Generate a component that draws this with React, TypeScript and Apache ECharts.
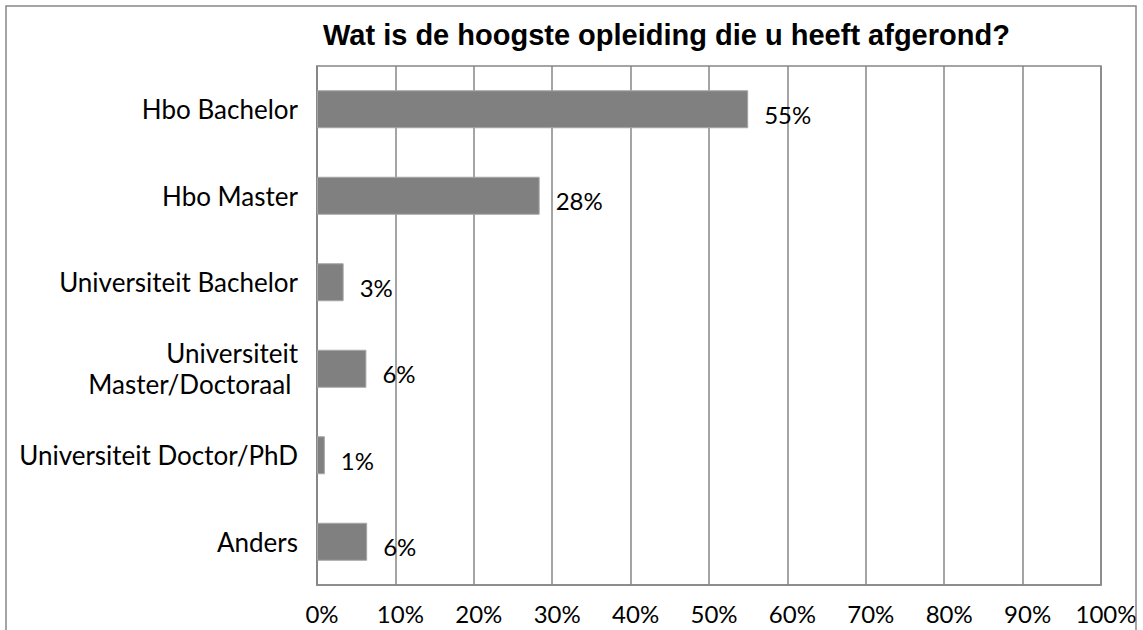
import React, { useEffect, useRef } from "react";
import * as echarts from "echarts";

const categories = [
  "Hbo Bachelor",
  "Hbo Master",
  "Universiteit Bachelor",
  "Universiteit\nMaster/Doctoraal ",
  "Universiteit Doctor/PhD",
  "Anders",
];
const values = [55.0, 28.4, 3.4, 6.3, 1.0, 6.4];
const dataLabels = ["55%", "28%", "3%", "6%", "1%", "6%"];
const titleText = "Wat is de hoogste opleiding die u heeft afgerond?";

export default function App() {
  const ref = useRef<HTMLDivElement>(null);
  useEffect(() => {
    if (!ref.current) return;
    const chart = echarts.init(ref.current, undefined, { renderer: "svg" });
    chart.setOption({
      animation: false,
      backgroundColor: "#ffffff",
      title: {
        text: titleText,
        left: 318,
        top: 15,
        textStyle: {
          fontFamily: "Liberation Sans, Arial, sans-serif",
          fontWeight: "bold",
          fontSize: 29,
          color: "#000",
        },
      },
      graphic: [
        {
          type: "rect",
          shape: { x: 6, y: 6, width: 1130, height: 640 },
          style: { fill: "none", stroke: "#868686", lineWidth: 1.5 },
          silent: true,
          z: -1,
        },
      ],
      grid: {
        left: 317,
        right: 42,
        top: 66,
        bottom: 45,
        show: true,
        borderColor: "#868686",
        borderWidth: 1.5,
        containLabel: false,
      },
      xAxis: {
        type: "value",
        min: 0,
        max: 100,
        interval: 10,
        axisLine: { show: true, lineStyle: { color: "#868686", width: 1.5 } },
        axisTick: { show: false },
        splitLine: { show: true, lineStyle: { color: "#868686", width: 1.5 } },
        axisLabel: {
          formatter: "{value}%",
          fontFamily: "Lato, sans-serif",
          fontSize: 24,
          color: "#000",
          margin: 16,
          padding: [0, 0, 0, 10],
        },
      },
      yAxis: {
        type: "category",
        inverse: true,
        data: categories,
        axisLine: { show: true, lineStyle: { color: "#868686", width: 1.5 } },
        axisTick: { show: false },
        axisLabel: {
          fontFamily: "Lato, sans-serif",
          fontSize: 26,
          color: "#000",
          margin: 19,
          lineHeight: 31,
          align: "right",
        },
      },
      series: [
        {
          type: "bar",
          data: values,
          barWidth: 38,
          itemStyle: { color: "#808080", borderColor: "#a6a6a6", borderWidth: 1 },
          label: {
            show: true,
            position: "right",
            distance: 16,
            formatter: (p: any) => dataLabels[p.dataIndex],
            fontFamily: "Lato, sans-serif",
            fontSize: 24,
            color: "#000",
            offset: [0, 5],
          },
        },
      ],
    });
    return () => chart.dispose();
  }, []);
  return (
    <div
      ref={ref}
      style={{ position: "fixed", left: 0, top: 0, width: 1143, height: 630 }}
    />
  );
}
